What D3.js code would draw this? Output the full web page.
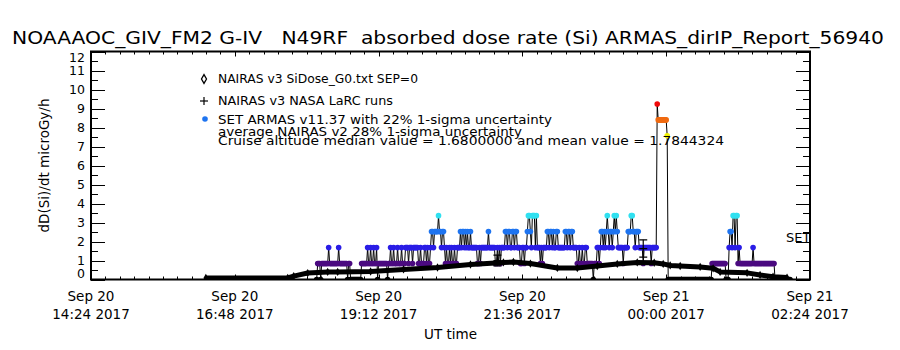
<!DOCTYPE html>
<html>
<head>
<meta charset="utf-8">
<script src="https://cdn.jsdelivr.net/npm/d3@7/dist/d3.min.js"></script>
<style>
  body { margin: 0; background: #fff; }
  svg { display: block; font-family: "DejaVu Sans", sans-serif; }
</style>
</head>
<body>
<div id="chart"></div>
<script>
// ------------------------------------------------------------
// Data
// ------------------------------------------------------------
const title = "NOAAAOC_GIV_FM2 G-IV   N49RF  absorbed dose rate (Si) ARMAS_dirIP_Report_56940";
const yLabel = "dD(Si)/dt microGy/h";
const xLabel = "UT time";

const yTicks = [0, 1, 2, 3, 4, 5, 6, 7, 8, 9, 10, 11, 12];
const xTickTimes = ["14:24", "16:48", "19:12", "21:36", "00:00", "02:24"];
const xTickDays = ["Sep 20", "Sep 20", "Sep 20", "Sep 20", "Sep 21", "Sep 21"];
const xTickHours = ["14:24 2017", "16:48 2017", "19:12 2017", "21:36 2017", "00:00 2017", "02:24 2017"];

// NAIRAS v3 SiDose_G0 (diamonds, drawn as a dense band)
const nairasTime = ["16:19", "17:41", "17:47", "18:01", "18:21", "18:31", "19:04", "19:37", "20:11",
  "20:44", "21:17", "21:27", "21:44", "22:11", "22:31", "22:51", "23:11", "23:31", "23:48", "23:57",
  "00:04", "00:14", "00:34", "00:47", "00:54", "01:21", "01:34", "01:47", "02:01"];
const nairasDose = [0.08, 0.08, 0.18, 0.34, 0.40, 0.40, 0.42, 0.53, 0.63,
  0.79, 0.90, 0.92, 0.84, 0.61, 0.60, 0.71, 0.82, 0.90, 0.88, 0.82,
  0.74, 0.71, 0.66, 0.59, 0.40, 0.35, 0.24, 0.15, 0.10];

// NAIRAS v3 NASA LaRC runs (+ with 28% 1-sigma bars)
const larcTime = ["21:11", "23:37"];
const larcDose = [1.00, 1.63];
const larcSigma = 0.28;

// SET ARMAS: one sample per minute from 18:10, level k -> k * 0.84 microGy/h
const armasStart = "18:10";
const armasStep = 0.84;
const armasLevels = [
  "0111011111", "1121111111", "1121111111", "1011000000", "0000011111",
  "1211211211", "2011111111", "1011211211", "1211121112", "2212221222",
  "2211211122", "1211233233", "3343323321", "2112121121", "1222323323",
  "2322322222", "2112122222", "2232222221", "1212122223", "3233223323",
  "3222112212", "2344324442", "4222121222", "2332332322", "3322222223",
  "3233233222", "2112112112", "2111111011", "1221233232", "3432332343",
  "4322222122", "2233344332", "3332222122", "2222212222", "2BAAAAAAAA",
  "A900000000", "0000000000", "0000000000", "0000000000", "0000001111",
  "1111111111", "0002332442", "4412111111", "1111111211", "1111111111",
  "1111111110", "0000000000", "00000"
].join("");
const levelColors = {
  0: "#000000", 1: "#4b0a80", 2: "#2a1de6", 3: "#1e74f0", 4: "#30e0f0",
  9: "#f0f000", 10: "#f06a10", 11: "#f00a0a"
};

const legendLines = [
  "NAIRAS v3 SiDose_G0.txt SEP=0",
  "NAIRAS v3 NASA LaRC runs",
  "SET ARMAS v11.37 with 22% 1-sigma uncertainty",
  "average NAIRAS v2 28% 1-sigma uncertainty",
  "Cruise altitude median value = 1.6800000 and mean value = 1.7844324"
];

// ------------------------------------------------------------
// Layout
// ------------------------------------------------------------
const W = 900, H = 350;
const pLeft = 91, pRight = 810, pTop = 51.5, pBottom = 279.5;

// "HH:MM" -> Date (morning hours belong to Sep 21)
function toDate(hm) {
  const [h, m] = hm.split(":").map(Number);
  return new Date(Date.UTC(2017, 8, h < 12 ? 21 : 20, h, m));
}

const x = d3.scaleUtc()
  .domain([toDate("14:24"), toDate("02:24")])
  .range([pLeft, pRight]);
const y = d3.scaleLinear().domain([0, 12]).range([pBottom, pTop]);

const svg = d3.select("#chart").append("svg")
  .attr("width", W).attr("height", H);

svg.append("defs").append("clipPath").attr("id", "clip")
  .append("rect")
  .attr("x", pLeft).attr("y", pTop)
  .attr("width", pRight - pLeft).attr("height", pBottom - pTop);

// ------------------------------------------------------------
// Data layers
// ------------------------------------------------------------
const plot = svg.append("g").attr("clip-path", "url(#clip)");

// ARMAS samples
const t0 = toDate(armasStart);
const armas = armasLevels.split("").map((c, i) => {
  const k = parseInt(c, 16);
  return { t: new Date(t0.getTime() + i * 60000), k: k, v: k * armasStep };
});

plot.append("path")
  .datum(armas)
  .attr("fill", "none")
  .attr("stroke", "#000")
  .attr("stroke-width", 1)
  .attr("d", d3.line().x(d => x(d.t)).y(d => y(d.v)));

plot.selectAll("circle.armas")
  .data(armas)
  .enter().append("circle")
  .attr("class", "armas")
  .attr("cx", d => x(d.t))
  .attr("cy", d => y(d.v))
  .attr("r", 2.8)
  .attr("fill", d => levelColors[d.k]);

// NAIRAS band
const nairas = nairasTime.map((t, i) => ({ t: toDate(t), v: nairasDose[i] }));
plot.append("path")
  .datum(nairas)
  .attr("fill", "none")
  .attr("stroke", "#000")
  .attr("stroke-width", 5)
  .attr("stroke-linejoin", "round")
  .attr("d", d3.line().x(d => x(d.t)).y(d => y(d.v)));

plot.selectAll("path.diamond")
  .data(nairas)
  .enter().append("path")
  .attr("class", "diamond")
  .attr("transform", d => `translate(${x(d.t)},${y(d.v)})`)
  .attr("d", d3.symbol(d3.symbolDiamond, 20))
  .attr("fill", "#000");

// LaRC runs with error bars
const larc = larcTime.map((t, i) => ({ t: toDate(t), v: larcDose[i] }));
const lg = plot.selectAll("g.larc")
  .data(larc)
  .enter().append("g")
  .attr("class", "larc")
  .attr("stroke", "#000").attr("stroke-width", 1.2);
lg.append("line")
  .attr("x1", d => x(d.t)).attr("x2", d => x(d.t))
  .attr("y1", d => y(d.v * (1 - larcSigma))).attr("y2", d => y(d.v * (1 + larcSigma)));
[1 - larcSigma, 1 + larcSigma].forEach(f => {
  lg.append("line")
    .attr("x1", d => x(d.t) - 4).attr("x2", d => x(d.t) + 4)
    .attr("y1", d => y(d.v * f)).attr("y2", d => y(d.v * f));
});
lg.append("line")
  .attr("x1", d => x(d.t) - 4).attr("x2", d => x(d.t) + 4)
  .attr("y1", d => y(d.v)).attr("y2", d => y(d.v));

// ------------------------------------------------------------
// Axes (IDL style box with ticks on all four sides)
// ------------------------------------------------------------
const axes = svg.append("g").attr("stroke", "#000");

axes.append("rect")
  .attr("x", pLeft).attr("y", pTop)
  .attr("width", pRight - pLeft).attr("height", pBottom - pTop)
  .attr("fill", "none").attr("stroke-width", 2);

// y ticks: majors on integers, minors on halves
yTicks.forEach(v => {
  const yy = Math.round(y(v)) + 0.5;
  axes.append("line").attr("x1", pLeft).attr("x2", pLeft + 14).attr("y1", yy).attr("y2", yy);
  axes.append("line").attr("x1", pRight).attr("x2", pRight - 14).attr("y1", yy).attr("y2", yy);
  if (v < 12) {
    const ym = Math.round(y(v + 0.5)) + 0.5;
    axes.append("line").attr("x1", pLeft).attr("x2", pLeft + 7).attr("y1", ym).attr("y2", ym);
    axes.append("line").attr("x1", pRight).attr("x2", pRight - 7).attr("y1", ym).attr("y2", ym);
  }
});

// x ticks: majors every 2.4 h, 10 minor intervals each
const xMajors = xTickTimes.map(toDate);
xMajors.forEach((d, i) => {
  const xx = Math.round(x(d)) + 0.5;
  axes.append("line").attr("x1", xx).attr("x2", xx).attr("y1", pBottom).attr("y2", pBottom - 5);
  axes.append("line").attr("x1", xx).attr("x2", xx).attr("y1", pTop).attr("y2", pTop + 5);
  if (i < xMajors.length - 1) {
    const step = (xMajors[i + 1] - d) / 10;
    for (let j = 1; j < 10; j++) {
      const xm = Math.round(x(new Date(d.getTime() + j * step))) + 0.5;
      axes.append("line").attr("x1", xm).attr("x2", xm).attr("y1", pBottom).attr("y2", pBottom - 3);
      axes.append("line").attr("x1", xm).attr("x2", xm).attr("y1", pTop).attr("y2", pTop + 3);
    }
  }
});

// ------------------------------------------------------------
// Texts
// ------------------------------------------------------------
const txt = svg.append("g").attr("fill", "#000");

txt.append("text")
  .attr("x", 12).attr("y", 44)
  .attr("font-size", 17)
  .attr("xml:space", "preserve")
  .style("white-space", "pre")
  .attr("textLength", 872).attr("lengthAdjust", "spacingAndGlyphs")
  .text(title);

// y tick labels (end labels kept inside the box)
yTicks.forEach(v => {
  const yy = Math.min(Math.max(y(v), pTop + 6), pBottom - 6);
  txt.append("text")
    .attr("x", 85).attr("y", yy + 4.5)
    .attr("text-anchor", "end")
    .attr("font-size", 12.5)
    .text(v);
});

txt.append("text")
  .attr("transform", `translate(49,${(pTop + pBottom) / 2}) rotate(-90)`)
  .attr("text-anchor", "middle")
  .attr("font-size", 13.5)
  .text(yLabel);

xMajors.forEach((d, i) => {
  const xx = x(d);
  txt.append("text").attr("x", xx).attr("y", 301)
    .attr("text-anchor", "middle").attr("font-size", 13.5).text(xTickDays[i]);
  txt.append("text").attr("x", xx).attr("y", 319)
    .attr("text-anchor", "middle").attr("font-size", 13.5).text(xTickHours[i]);
});

txt.append("text")
  .attr("x", (pLeft + pRight) / 2).attr("y", 339)
  .attr("text-anchor", "middle").attr("font-size", 13.5)
  .text(xLabel);

txt.append("text")
  .attr("x", 786).attr("y", 242)
  .attr("font-size", 13)
  .text("SET");

// Legend
const legendY = [83, 104.5, 123.5, 135.5, 144.5];
const legendW = [200, 175, 334, 304, 506];
legendLines.forEach((s, i) => {
  txt.append("text")
    .attr("x", 218).attr("y", legendY[i])
    .attr("font-size", 12.5)
    .attr("textLength", legendW[i]).attr("lengthAdjust", "spacingAndGlyphs")
    .text(s);
});

// legend symbols
svg.append("path")
  .attr("transform", "translate(204,79)")
  .attr("d", d3.symbol(d3.symbolDiamond, 22))
  .attr("fill", "none").attr("stroke", "#000").attr("stroke-width", 1.3);
const lp = svg.append("g").attr("transform", "translate(204,101)").attr("stroke", "#000").attr("stroke-width", 1.2);
lp.append("line").attr("x1", -4).attr("x2", 4);
lp.append("line").attr("y1", -4).attr("y2", 4);
svg.append("circle")
  .attr("cx", 205).attr("cy", 119).attr("r", 2.8)
  .attr("fill", levelColors[3]);
</script>
</body>
</html>
